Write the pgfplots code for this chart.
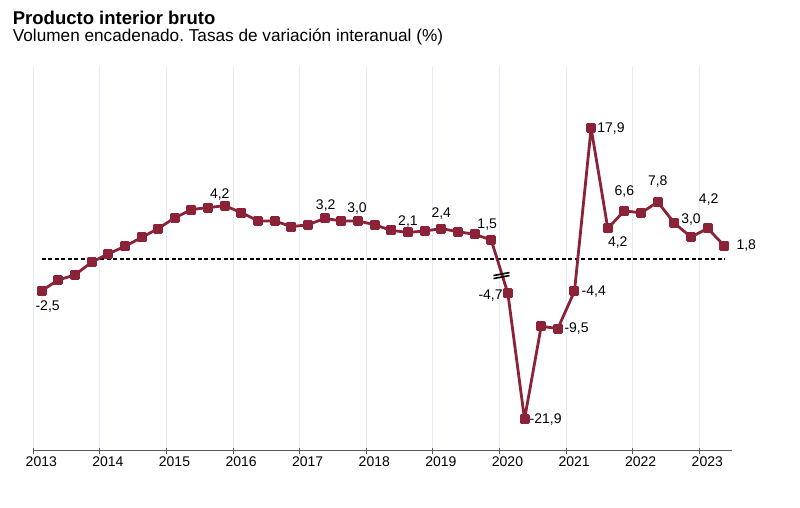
\documentclass[border=0pt]{standalone}
\usepackage{fontspec}
\setmainfont{Liberation Sans}
\usepackage{pgfplots}
\pgfplotsset{compat=1.18}
\usepackage{pgfplotstable}
\frenchspacing

\definecolor{pib}{RGB}{139,34,56}
\definecolor{rejilla}{RGB}{228,236,248}
\definecolor{eje}{RGB}{90,90,90}

% PIB, tasa interanual por trimestre (2013T1-2023T2)
\pgfplotstableread{
x        y
2013.125 -2.5
2013.375 -1.65
2013.625 -1.25
2013.875 -0.25
2014.125 0.4
2014.375 1.0
2014.625 1.7
2014.875 2.4
2015.125 3.25
2015.375 3.9
2015.625 4.05
2015.875 4.2
2016.125 3.65
2016.375 3.0
2016.625 3.0
2016.875 2.55
2017.125 2.7
2017.375 3.2
2017.625 3.0
2017.875 3.0
2018.125 2.7
2018.375 2.25
2018.625 2.1
2018.875 2.2
2019.125 2.4
2019.375 2.15
2019.625 1.95
2019.875 1.5
2020.125 -4.7
2020.375 -21.9
2020.625 -9.2
2020.875 -9.5
2021.125 -4.4
2021.375 17.9
2021.625 4.2
2021.875 6.6
2022.125 6.3
2022.375 7.8
2022.625 4.9
2022.875 3.0
2023.125 4.2
2023.375 1.8
}\tablapib

% desde 2020T1 la escala vertical se comprime (ruptura del eje)
\pgfplotsset{
  rotura/.style={y filter/.expression={x>2020 ? 0.576*y : y}},
  etq/.style n args={3}{only marks, mark=none, nodes near coords,
    point meta=explicit symbolic, rotura,
    every node near coord/.append style={anchor=#1, xshift=#2bp, yshift=#3bp,
      inner sep=0pt, text=black, font=\fontsize{14bp}{16bp}\selectfont}},
}

\begin{document}
\begin{tikzpicture}
\useasboundingbox (0,0) rectangle (800bp,508bp);
\node[anchor=base west, inner sep=0pt, font=\fontsize{18.5bp}{20bp}\selectfont\bfseries]
  at (12.7bp,483bp) {Producto interior bruto};
\node[anchor=base west, inner sep=0pt, font=\fontsize{17.2bp}{19bp}\selectfont]
  at (12.7bp,466.3bp) {Volumen encadenado. Tasas de variación interanual (\%)};

\begin{axis}[
  at={(33.3bp,57.3bp)}, anchor=south west,
  scale only axis, width=698.7bp, height=383.7bp,
  xmin=2013, xmax=2023.49, ymin=-15.09, ymax=15.12,
  clip=false,
  axis x line*=bottom, axis y line=none,
  axis line style={eje, line width=1bp, -},
  xtick={2013,...,2023}, ytick=\empty,
  xticklabel={\pgfmathprintnumber[1000 sep=]{\tick}},
  /pgf/number format/assume math mode=true,
  xticklabel style={font=\fontsize{14bp}{16bp}\selectfont, xshift=8bp},
  major tick length=6bp, tick align=center,
  tick style={eje, line width=0.8bp},
  xmajorgrids, major grid style={rejilla, line width=1bp},
]
\addplot[black, line width=1.6bp, dash pattern=on 4.2bp off 2.3bp]
  coordinates {(2013.125,0) (2023.375,0)};

\addplot[pib, line width=2.8bp, line join=round, mark=square*,
  mark size=3.6bp, mark options={pib, solid}, rotura]
  table {\tablapib};

\addplot[etq={center}{6}{-16}]  coordinates {(2013.125,-2.5) [-2,5]};
\addplot[etq={center}{-5}{11}]  coordinates {(2015.875,4.2) [4,2]};
\addplot[etq={center}{1}{13}]   coordinates {(2017.375,3.2) [3,2]};
\addplot[etq={center}{-1}{12}]  coordinates {(2017.875,3.0) [3,0]};
\addplot[etq={center}{0}{11}]   coordinates {(2018.625,2.1) [2,1]};
\addplot[etq={center}{0}{15}]   coordinates {(2019.125,2.4) [2,4]};
\addplot[etq={center}{-4}{15}]  coordinates {(2019.875,1.5) [1,5]};
\addplot[etq={east}{-5}{-2}]    coordinates {(2020.125,-4.7) [-4,7]};
\addplot[etq={west}{5}{0}]      coordinates {(2020.375,-21.9) [-21,9]};
\addplot[etq={west}{6.5}{0}]    coordinates {(2020.875,-9.5) [-9,5]};
\addplot[etq={west}{7}{0}]      coordinates {(2021.125,-4.4) [-4,4]};
\addplot[etq={west}{6}{0}]      coordinates {(2021.375,17.9) [17,9]};
\addplot[etq={center}{10}{-14}] coordinates {(2021.625,4.2) [4,2]};
\addplot[etq={center}{0}{19}]   coordinates {(2021.875,6.6) [6,6]};
\addplot[etq={center}{0}{20}]   coordinates {(2022.375,7.8) [7,8]};
\addplot[etq={center}{0}{18}]   coordinates {(2022.875,3.0) [3,0]};
\addplot[etq={center}{1}{29}]   coordinates {(2023.125,4.2) [4,2]};
\addplot[etq={west}{12}{0}]     coordinates {(2023.375,1.8) [1,8]};

\coordinate (rotura) at (axis cs:2020.03,-1.3);
\end{axis}

\draw[black, line width=1.6bp, shift={(rotura)}]
  (-8bp,-3bp) -- (8bp,0bp) (-8bp,0bp) -- (8bp,3bp);
\end{tikzpicture}
\end{document}
